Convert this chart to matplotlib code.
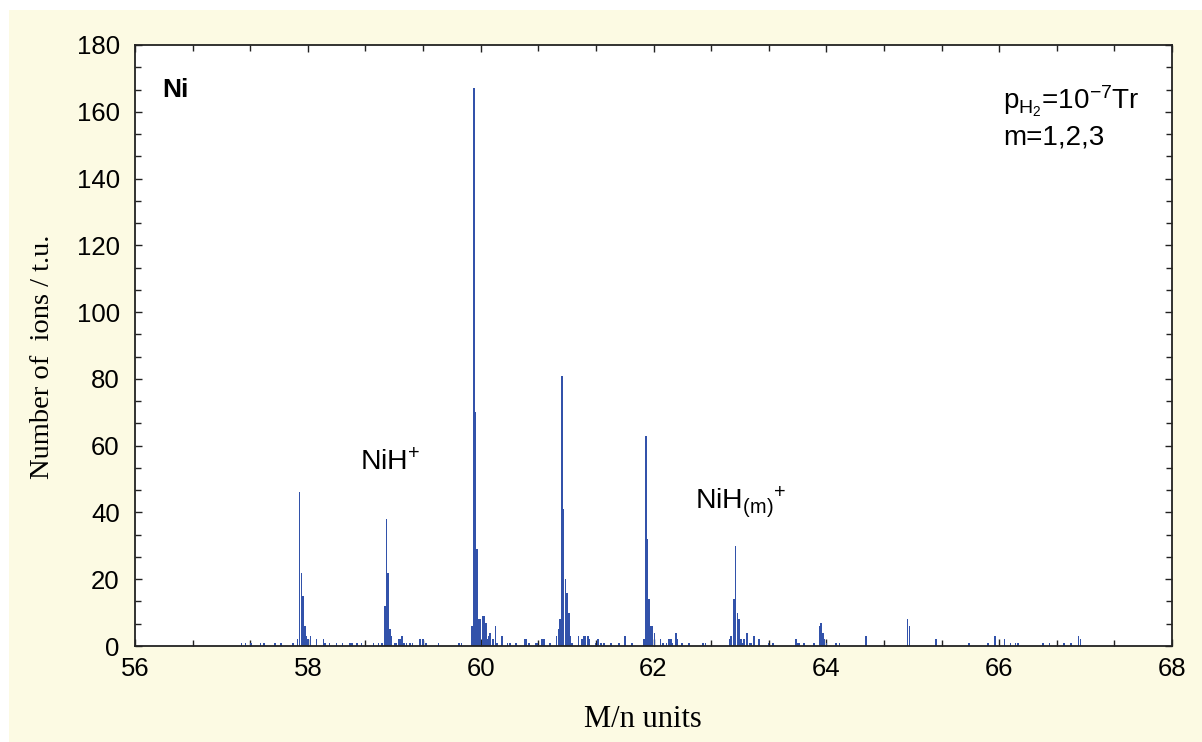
import matplotlib
matplotlib.use("Agg")
import matplotlib.pyplot as plt
from matplotlib.patches import Rectangle
from matplotlib.ticker import AutoMinorLocator

plt.rcParams['font.family'] = ['Liberation Sans', 'DejaVu Sans']
plt.rcParams['mathtext.fontset'] = 'custom'
plt.rcParams['mathtext.rm'] = 'Liberation Sans'
plt.rcParams['mathtext.it'] = 'Liberation Sans'

# mass / charge positions of the bins and counted ions per bin
mass = [57.23, 57.28, 57.34, 57.45, 57.49, 57.62, 57.69, 57.83, 57.88, 57.905,
        57.925, 57.945, 57.965, 57.98, 58.0, 58.03, 58.1, 58.18, 58.2, 58.25,
        58.33, 58.40, 58.49, 58.51, 58.57, 58.62, 58.76, 58.82, 58.86, 58.89,
        58.91, 58.93, 58.95, 58.97, 59.005, 59.02, 59.055, 59.075, 59.09, 59.11,
        59.14, 59.18, 59.21, 59.30, 59.33, 59.37, 59.51, 59.75, 59.78, 59.90,
        59.92, 59.94, 59.96, 59.98, 60.0, 60.02, 60.04, 60.06, 60.075, 60.09,
        60.105, 60.14, 60.17, 60.19, 60.25, 60.31, 60.34, 60.41, 60.51, 60.53,
        60.56, 60.64, 60.66, 60.71, 60.73, 60.80, 60.88, 60.90, 60.92, 60.94,
        60.96, 60.98, 61.0, 61.02, 61.04, 61.06, 61.13, 61.17, 61.19, 61.21,
        61.24, 61.26, 61.33, 61.36, 61.39, 61.43, 61.51, 61.60, 61.67, 61.75,
        61.89, 61.91, 61.93, 61.95, 61.97, 61.99, 62.01, 62.08, 62.11, 62.15,
        62.18, 62.20, 62.22, 62.26, 62.28, 62.33, 62.41, 62.57, 62.60, 62.88,
        62.90, 62.93, 62.95, 62.97, 62.99, 63.01, 63.03, 63.05, 63.08, 63.11,
        63.13, 63.16, 63.22, 63.33, 63.38, 63.65, 63.67, 63.69, 63.74, 63.86,
        63.92, 63.94, 63.96, 63.98, 64.0, 64.11, 64.15, 64.46, 64.94, 64.96,
        65.27, 65.65, 65.87, 65.95, 66.06, 66.13, 66.19, 66.22, 66.51, 66.58,
        66.75, 66.83, 66.92, 66.94]
ions = [1, 1, 1, 1, 1, 1, 1, 1, 2, 46,
        22, 15, 6, 3, 2, 3, 2, 2, 1, 1,
        1, 1, 1, 1, 1, 1, 1, 1, 1, 12,
        38, 22, 5, 3, 1, 1, 2, 2, 3, 1,
        1, 1, 1, 2, 2, 1, 1, 1, 1, 6,
        167, 70, 29, 8, 8, 9, 9, 7, 2, 3,
        4, 2, 6, 1, 3, 1, 1, 1, 2, 2,
        1, 1, 1, 2, 2, 1, 3, 5, 8, 81,
        41, 20, 16, 10, 3, 1, 3, 2, 3, 3,
        3, 2, 1, 2, 1, 1, 1, 1, 3, 1,
        2, 63, 32, 14, 6, 6, 4, 2, 1, 1,
        2, 2, 1, 4, 2, 1, 1, 1, 1, 2,
        3, 14, 30, 10, 8, 2, 1, 2, 4, 1,
        1, 3, 2, 1, 1, 2, 1, 1, 1, 1,
        6, 7, 4, 2, 1, 1, 1, 3, 8, 6,
        2, 1, 1, 3, 2, 1, 1, 1, 1, 1,
        1, 1, 3, 2]

xticks = [56, 58, 60, 62, 64, 66, 68]
yticks = [0, 20, 40, 60, 80, 100, 120, 140, 160, 180]

fig = plt.figure(figsize=(12.02, 7.42), dpi=100, facecolor='white')
# cream panel behind the plot
fig.patches.append(Rectangle((9 / 1202, 0), 1, 732 / 742, transform=fig.transFigure,
                             facecolor='#fcfae3', edgecolor='none', zorder=-10))

ax = fig.add_axes([135 / 1202, 96 / 742, 1037 / 1202, 601 / 742])
ax.set_facecolor('white')
ax.bar(mass, ions, width=0.018, color='#3252aa', linewidth=0, zorder=2)

ax.set_xlim(56, 68)
ax.set_ylim(0, 180)
ax.set_xticks(xticks)
ax.set_yticks(yticks)
ax.xaxis.set_minor_locator(AutoMinorLocator(3))
ax.yaxis.set_minor_locator(AutoMinorLocator(3))
ax.tick_params(which='both', direction='in', top=True, right=True, color='#222222', width=1.0)
ax.tick_params(which='major', length=5)
ax.tick_params(which='minor', length=4)
ax.tick_params(axis='y', labelsize=18.5, pad=11)
ax.tick_params(axis='x', labelsize=18.5, pad=8)
for sp in ax.spines.values():
    sp.set_linewidth(1.3)
    sp.set_color('#222222')

serif = ['Liberation Serif', 'DejaVu Serif']
ax.set_xlabel('M/n units', family=serif, fontsize=22)
ax.set_ylabel('Number of  ions / t.u.', family=serif, fontsize=20.5)
ax.xaxis.set_label_coords(0.49, -0.098)
ax.yaxis.set_label_coords(-0.077, 0.481)

ax.text(56.31, 166.5, 'Ni', fontsize=19, fontweight='bold', ha='left', va='center')
ax.text(58.6, 55, r'NiH$^{\mathregular{+}}$', fontsize=20.5, ha='left', va='center')
ax.text(62.48, 43, r'NiH$_{\mathregular{(m)}}$$^{\mathregular{+}}$', fontsize=20.5,
        ha='left', va='center')
ax.text(66.05, 158.5, r'p$_{\mathregular{H_2}}$=10$^{\mathregular{-7}}$Tr' + '\nm=1,2,3',
        fontsize=20, ha='left', va='center', linespacing=1.25,
        bbox=dict(facecolor='white', edgecolor='none', pad=6))

fig.savefig('out.png', dpi=100, facecolor=fig.get_facecolor())
